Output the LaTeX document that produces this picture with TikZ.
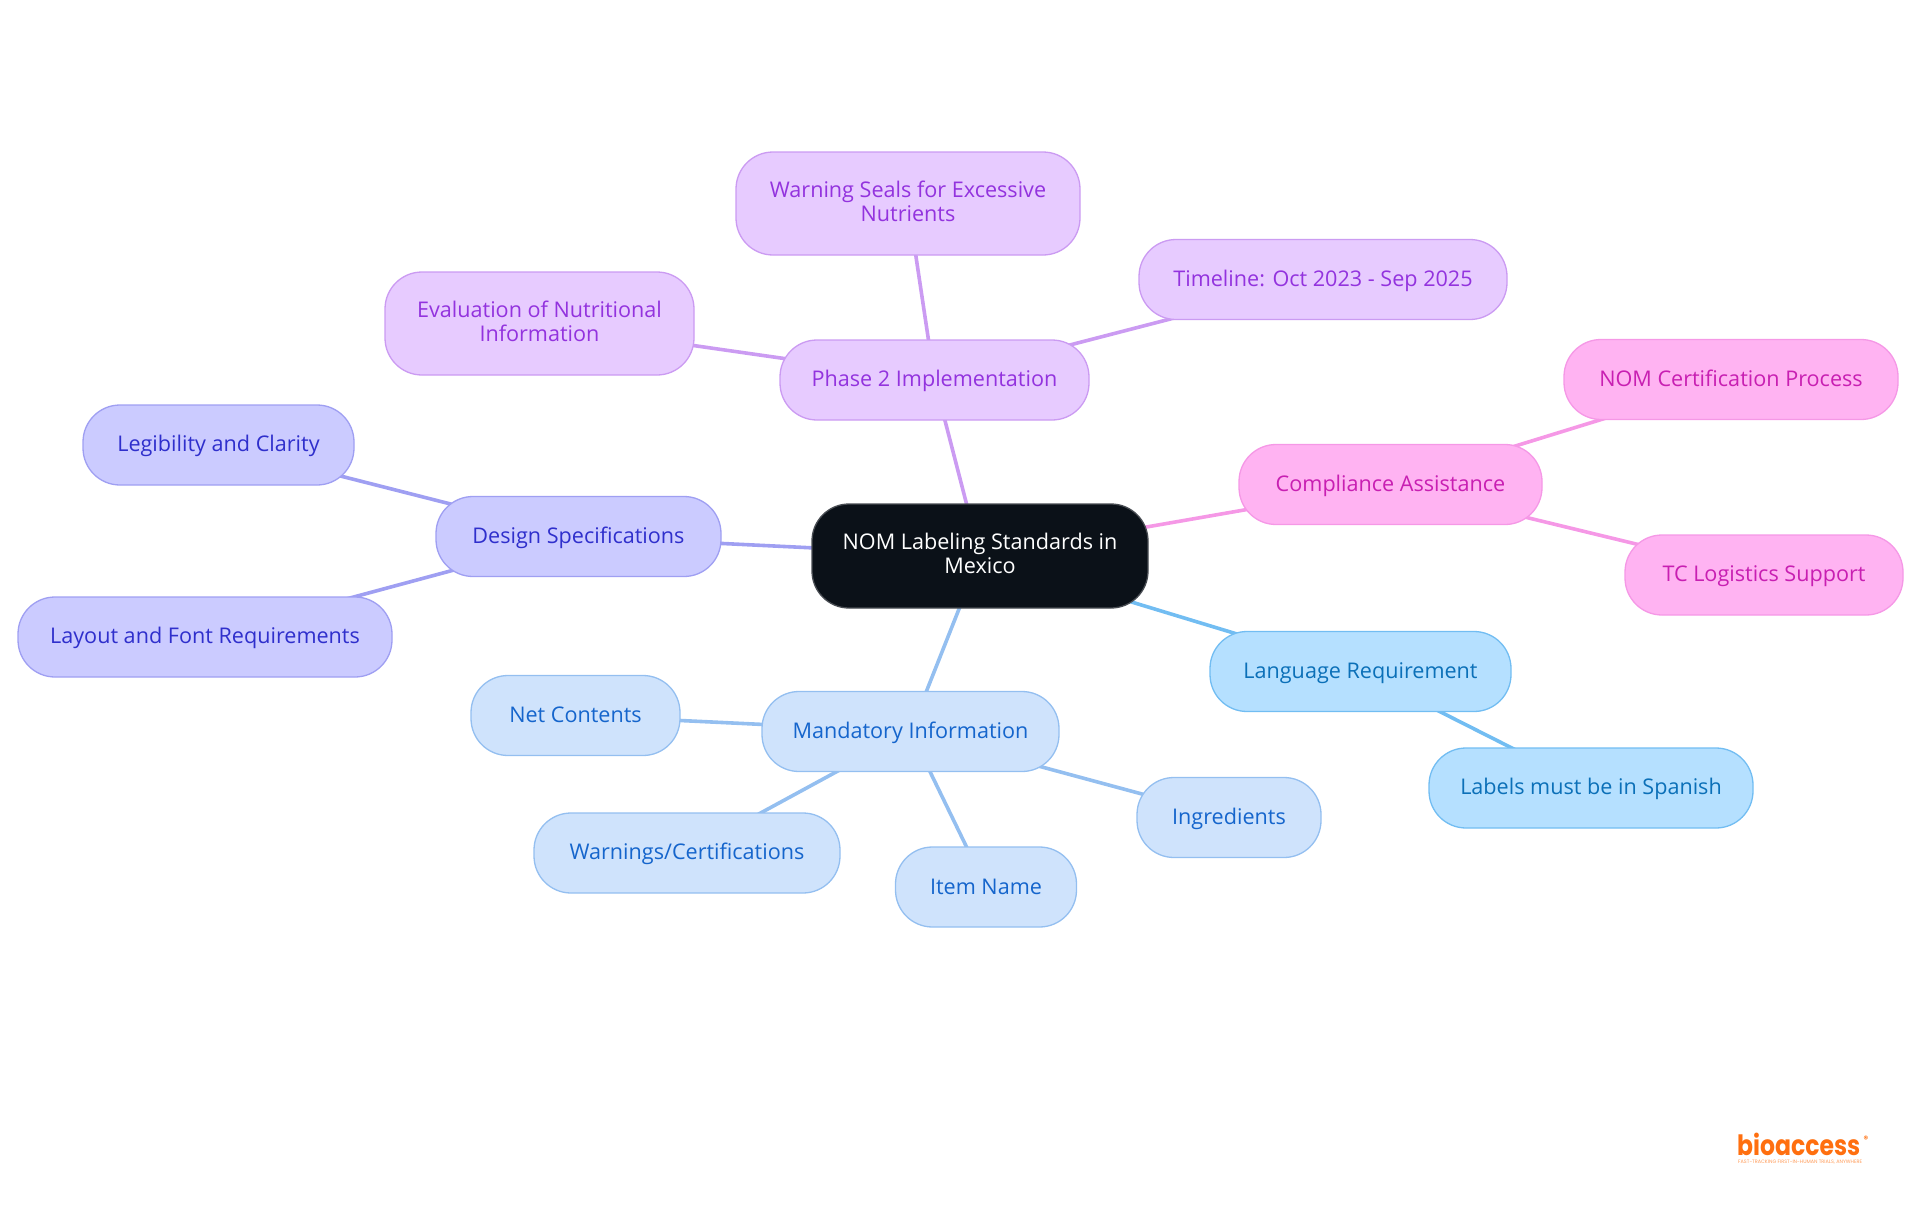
\documentclass[tikz,border=0pt]{standalone}
\usepackage{fontspec}
\setmainfont{Open Sans}
\newfontfamily\logofont{Poppins}
\usetikzlibrary{backgrounds}
\definecolor{rootfill}{HTML}{0B1118}
\definecolor{purplefill}{HTML}{E7CBFF}
\definecolor{purpleline}{HTML}{CB9BF2}
\definecolor{purpletext}{HTML}{9333DE}
\definecolor{pinkfill}{HTML}{FFB3F2}
\definecolor{pinkline}{HTML}{F598E6}
\definecolor{pinktext}{HTML}{C81FB2}
\definecolor{skyfill}{HTML}{B5E0FF}
\definecolor{skyline}{HTML}{72BDF2}
\definecolor{skytext}{HTML}{0B70B8}
\definecolor{palefill}{HTML}{CFE3FC}
\definecolor{paleline}{HTML}{94BFF0}
\definecolor{paletext}{HTML}{1565CC}
\definecolor{indigofill}{HTML}{CBCBFF}
\definecolor{indigoline}{HTML}{9F9FF2}
\definecolor{indigotext}{HTML}{2F2FCC}
\definecolor{logoorange}{HTML}{FF6F0F}
\tikzset{
	pill/.style={rounded corners=37pt, line width=1.3pt, inner sep=0pt, align=center,
		font=\fontsize{21.6}{24.4}\selectfont,
		execute at begin node={\rule[-5pt]{0pt}{24pt}}},
	wrapped/.style={execute at begin node={}, execute at end node={\rule[-1.5pt]{0pt}{1.5pt}}},
	rootbox/.style={pill, draw=rootfill!75, fill=rootfill, text=white},
	purplebox/.style={pill, draw=purpleline, fill=purplefill, text=purpletext},
	pinkbox/.style={pill, draw=pinkline, fill=pinkfill, text=pinktext},
	skybox/.style={pill, draw=skyline, fill=skyfill, text=skytext},
	palebox/.style={pill, draw=paleline, fill=palefill, text=paletext},
	indigobox/.style={pill, draw=indigoline, fill=indigofill, text=indigotext},
	size/.style 2 args={minimum width=#1pt, minimum height=#2pt},
	link/.style={line width=3.6pt}
}

\begin{document}
\begin{tikzpicture}[x=1pt, y=-1pt]
	\useasboundingbox (0, 0) rectangle (1920, 1215);

	% centre
	\node[rootbox, wrapped, size={336}{104}] (root) at (980, 556) {NOM Labeling Standards in\\Mexico};

	% phase 2 branch
	\node[purplebox, size={309}{80}] (phase) at (934.5, 380) {Phase 2 Implementation};
	\node[purplebox, wrapped, size={344}{103}] (seals) at (908, 203.5) {Warning Seals for Excessive\\Nutrients};
	\node[purplebox, size={368}{80}] (timeline) at (1323, 279.5) {Timeline: Oct 2023 - Sep 2025};
	\node[purplebox, wrapped, size={309}{103}] (evaluation) at (539.5, 323.5) {Evaluation of Nutritional\\Information};

	% compliance branch
	\node[pinkbox, size={303}{80}] (compliance) at (1390.5, 484.5) {Compliance Assistance};
	\node[pinkbox, size={334}{80}] (certification) at (1731, 379.5) {NOM Certification Process};
	\node[pinkbox, size={278}{80}] (logistics) at (1764, 575) {TC Logistics Support};

	% language branch
	\node[skybox, size={301}{80}] (language) at (1360.5, 671.5) {Language Requirement};
	\node[skybox, size={324}{80}] (spanish) at (1591, 788) {Labels must be in Spanish};

	% mandatory branch
	\node[palebox, size={297}{80}] (mandatory) at (910.5, 731.5) {Mandatory Information};
	\node[palebox, size={209}{80}] (contents) at (575.5, 715.5) {Net Contents};
	\node[palebox, size={306}{80}] (warnings) at (687, 853) {Warnings/Certifications};
	\node[palebox, size={181}{80}] (itemname) at (986, 887) {Item Name};
	\node[palebox, size={184}{80}] (ingredients) at (1229, 817.5) {Ingredients};

	% design branch
	\node[indigobox, size={285}{80}] (design) at (578.5, 536.5) {Design Specifications};
	\node[indigobox, size={271}{80}] (legibility) at (218.5, 445) {Legibility and Clarity};
	\node[indigobox, size={374}{80}] (layout) at (205, 637) {Layout and Font Requirements};

	\begin{scope}[on background layer]
		\draw[link, purpleline] (root.center) -- (phase.center);
		\draw[link, purpleline] (phase.center) -- (seals.center);
		\draw[link, purpleline] (phase.center) -- (timeline.center);
		\draw[link, purpleline] (phase.center) -- (evaluation.center);
		\draw[link, pinkline] (root.center) -- (compliance.center);
		\draw[link, pinkline] (compliance.center) -- (certification.center);
		\draw[link, pinkline] (compliance.center) -- (logistics.center);
		\draw[link, skyline] (root.center) -- (language.center);
		\draw[link, skyline] (language.center) -- (spanish.center);
		\draw[link, paleline] (root.center) -- (mandatory.center);
		\draw[link, paleline] (mandatory.center) -- (contents.center);
		\draw[link, paleline] (mandatory.center) -- (warnings.center);
		\draw[link, paleline] (mandatory.center) -- (itemname.center);
		\draw[link, paleline] (mandatory.center) -- (ingredients.center);
		\draw[link, indigoline] (root.center) -- (design.center);
		\draw[link, indigoline] (design.center) -- (legibility.center);
		\draw[link, indigoline] (design.center) -- (layout.center);
	\end{scope}

	% logo
	\node[inner sep=0pt, anchor=base west, text=logoorange, font=\logofont\bfseries\fontsize{28}{28}\selectfont] (logo) at (1737, 1155) {\scalebox{.84}[1]{bioaccess}};
	\node[inner sep=0pt, text=logoorange, font=\logofont\bfseries\fontsize{9}{9}\selectfont] (logomark) at (1866, 1139) {®};
	\node[inner sep=0pt, anchor=base west, text=logoorange!70, font=\logofont\fontsize{4.9}{5}\selectfont] (logotag) at (1738, 1163.5) {FAST-TRACKING FIRST-IN-HUMAN TRIALS, ANYWHERE};
\end{tikzpicture}
\end{document}
